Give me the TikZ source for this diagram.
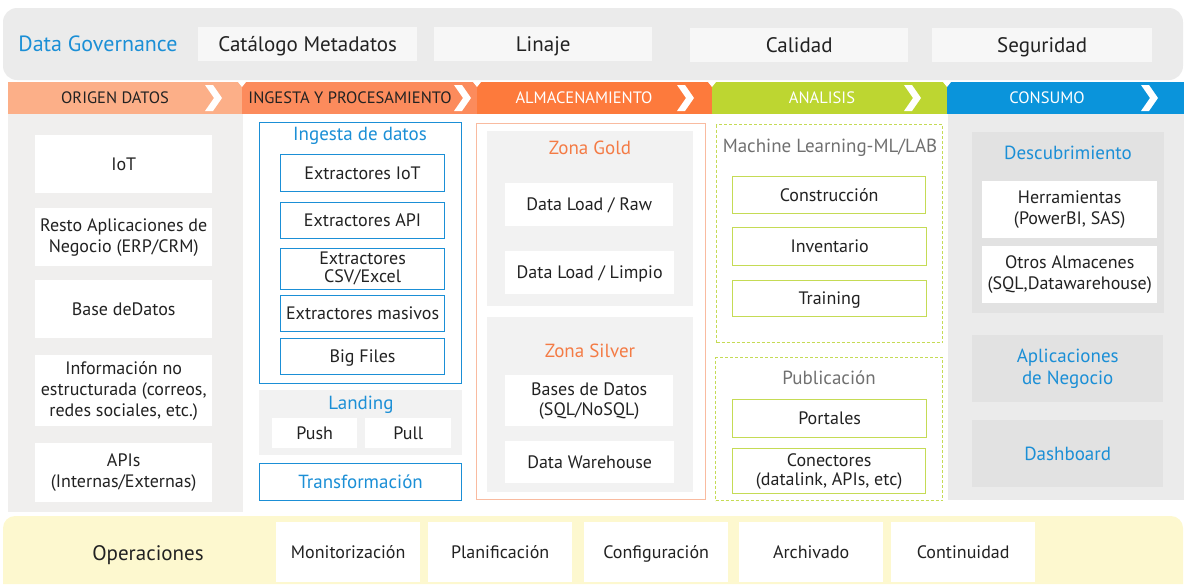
\documentclass[tikz,border=0pt]{standalone}
\usepackage{fontspec}
\setmainfont{PT Sans}
\definecolor{govgray}{HTML}{EBEBEB}
\definecolor{boxgray}{HTML}{F7F7F7}
\definecolor{dgblue}{HTML}{1B8FD6}
\definecolor{hdorigen}{HTML}{FCAF88}
\definecolor{hdingesta}{HTML}{FC8B5C}
\definecolor{hdalmac}{HTML}{FD7A3C}
\definecolor{hdanalisis}{HTML}{BDD631}
\definecolor{hdconsumo}{HTML}{0A94DB}
\definecolor{origbg}{HTML}{F0EFEE}
\definecolor{zonegray}{HTML}{F2F2F2}
\definecolor{zoneorange}{HTML}{F47B45}
\definecolor{almborder}{HTML}{F9BBA0}
\definecolor{mlgreen}{HTML}{C5DB55}
\definecolor{mltext}{HTML}{707070}
\definecolor{consbg}{HTML}{EBEBEB}
\definecolor{consbox}{HTML}{E2E2E2}
\definecolor{opsbg}{HTML}{FDF8CF}
\definecolor{txtdark}{HTML}{222222}
\begin{document}
\begin{tikzpicture}[x=1pt, y=-1pt,
  every node/.style={inner sep=0pt, align=center, text=txtdark, font=\fontsize{18}{21}\selectfont,
    execute at begin node=\vphantom{Áy}, execute at end node=\vphantom{Áy}},
  sz/.style 2 args={minimum width=#1pt, minimum height=#2pt},
  cell/.style={anchor=north west, fill=white},
  govbox/.style={anchor=north west, fill=boxgray, font=\fontsize{21}{24}\selectfont},
  blueframe/.style={anchor=north west, draw=dgblue, line width=1.2pt, fill=white},
  greenframe/.style={anchor=north west, draw=mlgreen, line width=1.3pt, fill=white},
  dotframe/.style={anchor=north west, draw=mlgreen, line width=1.1pt, dash pattern=on 3pt off 2pt},
  zone/.style={anchor=north west, fill=zonegray},
  hdtext/.style={font=\fontsize{16.5}{18}\selectfont},
  bluetitle/.style={text=dgblue, font=\fontsize{19}{22}\selectfont},
  zonetitle/.style={text=zoneorange, font=\fontsize{19}{22}\selectfont},
  graytitle/.style={text=mltext, font=\fontsize{19}{22}\selectfont}]
\useasboundingbox (0,0) rectangle (1184,584);

% backgrounds
\fill[govgray, rounded corners=14] (3,8) rectangle (1183,80);
\fill[origbg] (8,113) rectangle (243,512);
\fill[consbg] (948,113) rectangle (1184,500);
\fill[opsbg] (3,584) [rounded corners=12] -- (3,516) -- (1183,516) [sharp corners] -- (1183,584) -- cycle;

% phase headers
\foreach \xa/\xb/\col in {8/242/hdorigen, 242/477/hdingesta, 477/712/hdalmac, 712/947/hdanalisis, 947/1184/hdconsumo}
  \fill[\col] (\xa,82) rectangle (\xb,114);
\foreach \xa in {205, 454, 677, 904, 1141}
  \fill[white] (\xa,85) -- (\xa+8,85) -- (\xa+17,98) -- (\xa+8,111) -- (\xa,111) -- (\xa+9,98) -- cycle;
\foreach \xa in {242, 477, 712, 947}
  \fill[white] (\xa-4,82) -- (\xa+4,82) -- (\xa,87) -- cycle;
\node[hdtext] (origen) at (115,98) {ORIGEN DATOS};
\node[hdtext] (ingestahd) at (350,98) {INGESTA Y PROCESAMIENTO};
\node[hdtext, text=white] (almachd) at (584,98) {ALMACENAMIENTO};
\node[hdtext, text=white] (analisis) at (822,98) {ANALISIS};
\node[hdtext, text=white] (consumo) at (1047,98) {CONSUMO};

% data governance
\node[text=dgblue, font=\fontsize{22}{25}\selectfont] (gov) at (98,44) {Data Governance};
\node[govbox, sz={219}{34}] (catalogo) at (198,27) {Catálogo Metadatos};
\node[govbox, sz={218}{34}] (linaje) at (434,27) {Linaje};
\node[govbox, sz={218}{34}] (calidad) at (690,28) {Calidad};
\node[govbox, sz={220}{34}] (seguridad) at (932,28) {Seguridad};

% origen datos
\node[cell, sz={177}{58}] (iot) at (35,135) {IoT};
\node[cell, sz={177}{58}] (resto) at (35,208) {Resto Aplicaciones de\\Negocio (ERP/CRM)};
\node[cell, sz={177}{58}] (basedatos) at (35,280) {Base deDatos};
\node[cell, sz={177}{71}] (noestruct) at (35,355) {Información no\\estructurada (correos,\\redes sociales, etc.)};
\node[cell, sz={177}{59}] (apis) at (35,443) {APIs\\(Internas/Externas)};

% ingesta y procesamiento
\node[blueframe, sz={202}{261}] (ingesta) at (259,122) {};
\node[bluetitle] (ingestatit) at (360,134) {Ingesta de datos};
\node[blueframe, sz={164}{37}] (extiot) at (280,154) {Extractores IoT};
\node[blueframe, sz={164}{36}] (extapi) at (280,202) {Extractores API};
\node[blueframe, sz={164}{41}, font=\fontsize{18}{18}\selectfont] (extcsv) at (280,248) {Extractores\\CSV/Excel};
\node[blueframe, sz={164}{36}] (extmas) at (280,295) {Extractores masivos};
\node[blueframe, sz={164}{36}] (bigfiles) at (280,338) {Big Files};
\node[zone, sz={203}{65}] (landing) at (259,390) {};
\node[bluetitle] (landingtit) at (361,403) {Landing};
\node[cell, sz={85}{30}] (push) at (272,418) {Push};
\node[cell, sz={86}{30}] (pull) at (365,418) {Pull};
\node[blueframe, bluetitle, sz={202}{37}] (transf) at (259,463) {Transformación};

% almacenamiento
\node[anchor=north west, draw=almborder, line width=1pt, sz={229}{376}] (almac) at (476,123) {};
\node[zone, sz={206}{175}] (gold) at (487,131) {};
\node[zonetitle] (goldtit) at (590,148) {Zona Gold};
\node[cell, sz={168}{43}] (raw) at (505,183) {Data Load / Raw};
\node[cell, sz={169}{43}] (limpio) at (505,251) {Data Load / Limpio};
\node[zone, sz={206}{175}] (silver) at (487,317) {};
\node[zonetitle] (silvertit) at (590,351) {Zona Silver};
\node[cell, sz={168}{51}, font=\fontsize{18}{20}\selectfont] (basesdatos) at (505,375) {Bases de Datos\\(SQL/NoSQL)};
\node[cell, sz={169}{42}] (dwh) at (505,441) {Data Warehouse};

% analisis
\node[dotframe, sz={226}{218}] (ml) at (716,124) {};
\node[graytitle] (mltit) at (830,146) {Machine Learning-ML/LAB};
\node[greenframe, sz={193}{37}] (construccion) at (732,176) {Construcción};
\node[greenframe, sz={194}{38}] (inventario) at (732,227) {Inventario};
\node[greenframe, sz={194}{36}] (training) at (732,280) {Training};
\node[dotframe, sz={227}{143}] (publicacion) at (715,357) {};
\node[graytitle] (pubtit) at (829,378) {Publicación};
\node[greenframe, sz={194}{38}] (portales) at (732,399) {Portales};
\node[greenframe, sz={193}{45}, font=\fontsize{18}{19}\selectfont] (conectores) at (732,448) {Conectores\\(datalink, APIs, etc)};

% consumo
\node[anchor=north west, fill=consbox, sz={192}{181}] (descub) at (972,132) {};
\node[bluetitle] (descubtit) at (1068,153) {Descubrimiento};
\node[cell, sz={175}{57}] (herramientas) at (982,181) {Herramientas\\(PowerBI, SAS)};
\node[cell, sz={175}{57}] (otros) at (982,246) {Otros Almacenes\\(SQL,Datawarehouse)};
\node[anchor=north west, fill=consbox, bluetitle, sz={191}{67}] (aplicaciones) at (972,335) {Aplicaciones\\de Negocio};
\node[anchor=north west, fill=consbox, bluetitle, sz={191}{67}] (dashboard) at (972,420) {Dashboard};

% operaciones
\node[font=\fontsize{21}{24}\selectfont] (operaciones) at (148,554) {Operaciones};
\foreach \nm/\xa/\lbl in {monit/276/Monitorización, planif/428/Planificación, config/584/Configuración, archivado/739/Archivado, continuidad/891/Continuidad}
  \node[cell, sz={144}{60}] (\nm) at (\xa,522) {\lbl};
\end{tikzpicture}
\end{document}
